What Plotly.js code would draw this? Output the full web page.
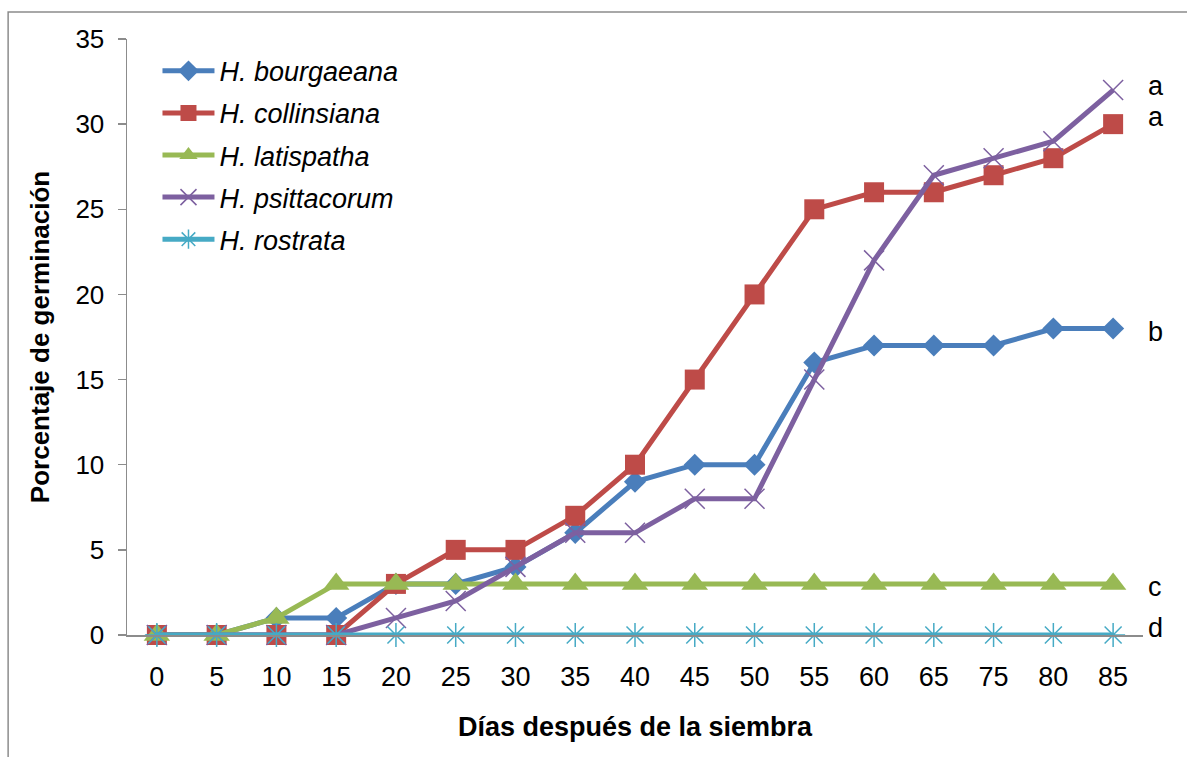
<!DOCTYPE html>
<html>
<head>
<meta charset="utf-8">
<script src="https://cdn.plot.ly/plotly-3.0.1.min.js"></script>
<style>
  html, body { margin: 0; padding: 0; background: #ffffff; }
  #chart { width: 1187px; height: 757px; }
</style>
</head>
<body>
<div id="chart"></div>
<script>
// Días después de la siembra (categorías del eje X)
const days = ['0', '5', '10', '15', '20', '25', '30', '35', '40', '45', '50', '55', '60', '65', '75', '80', '85'];

// Porcentaje de germinación por especie
const bourgaeana  = [0, 0, 1, 1, 3, 3, 4, 6, 9, 10, 10, 16, 17, 17, 17, 18, 18];
const collinsiana = [0, 0, 0, 0, 3, 5, 5, 7, 10, 15, 20, 25, 26, 26, 27, 28, 30];
const latispatha  = [0, 0, 1, 3, 3, 3, 3, 3, 3, 3, 3, 3, 3, 3, 3, 3, 3];
const psittacorum = [0, 0, 0, 0, 1, 2, 4, 6, 6, 8, 8, 15, 22, 27, 28, 29, 32];
const rostrata    = [0, 0, 0, 0, 0, 0, 0, 0, 0, 0, 0, 0, 0, 0, 0, 0, 0];

// Letras de agrupación estadística al final de cada curva
const groupLetters = ['b', 'a', 'c', 'a', 'd'];

const FONT = 'Liberation Sans, Arial, sans-serif';

const seriesDefs = [
  { name: 'H. bourgaeana',  y: bourgaeana,  color: '#4A7EBB', symbol: 'diamond',       size: 17, mline: 0,   letterShift: -4 },
  { name: 'H. collinsiana', y: collinsiana, color: '#BE4B48', symbol: 'square',        size: 20, mline: 0,   letterShift: 7 },
  { name: 'H. latispatha',  y: latispatha,  color: '#98B954', symbol: 'triangle-up',   size: 23, mline: 0,   letterShift: -3 },
  { name: 'H. psittacorum', y: psittacorum, color: '#7D60A0', symbol: 'x-thin-open',   size: 20, mline: 1.5, letterShift: 4 },
  { name: 'H. rostrata',    y: rostrata,    color: '#46AAC5', symbol: 'asterisk-open', size: 20, mline: 1.5, letterShift: 7 }
];

const traces = seriesDefs.map((s, i) => ({
  type: 'scatter',
  mode: 'lines+markers',
  name: s.name,
  x: days,
  y: s.y,
  legendgroup: 'g' + i,
  line: { color: s.color, width: 5 },
  marker: {
    symbol: s.symbol,
    size: s.size,
    color: s.color,
    line: { color: s.color, width: s.mline }
  },
  cliponaxis: false
}));

// Letters sit just right of the last point of each curve (category index)
const lastIdx = days.length - 1;
const annotations = seriesDefs.map((s, i) => ({
  xref: 'x', yref: 'y',
  x: lastIdx,
  y: s.y[lastIdx],
  text: groupLetters[i],
  showarrow: false,
  xanchor: 'left',
  yanchor: 'middle',
  xshift: 33,
  yshift: s.letterShift,
  font: { family: FONT, size: 27, color: '#000000' }
}));

const layout = {
  width: 1187,
  height: 757,
  margin: { l: 127, r: 44, t: 39, b: 122 },
  paper_bgcolor: '#ffffff',
  plot_bgcolor: '#ffffff',
  showlegend: true,
  legend: {
    x: 0.03, y: 0.987,
    xanchor: 'left', yanchor: 'top',
    bgcolor: 'rgba(0,0,0,0)',
    traceorder: 'grouped',
    tracegroupgap: 4,
    itemwidth: 52,
    font: { family: FONT, size: 27, color: '#000000', style: 'italic' }
  },
  xaxis: {
    type: 'category',
    range: [-0.5, days.length - 0.5],
    showline: true,
    linecolor: '#8C8C8C',
    linewidth: 1.5,
    ticks: '',
    showgrid: false,
    zeroline: false,
    ticklabelstandoff: 17,
    tickfont: { family: FONT, size: 27, color: '#000000' },
    title: {
      text: 'Días después de la siembra',
      font: { family: FONT, size: 27, color: '#000000', weight: 'bold' },
      standoff: 26
    }
  },
  yaxis: {
    range: [0, 35],
    tickvals: [0, 5, 10, 15, 20, 25, 30, 35],
    showline: true,
    linecolor: '#8C8C8C',
    linewidth: 1.5,
    ticks: 'outside',
    ticklen: 8,
    tickwidth: 1.5,
    tickcolor: '#8C8C8C',
    ticklabelstandoff: 8,
    showgrid: false,
    zeroline: false,
    tickfont: { family: FONT, size: 26, color: '#000000' },
    title: {
      text: 'Porcentaje de germinación',
      font: { family: FONT, size: 26, color: '#000000', weight: 'bold' },
      standoff: 18
    }
  },
  shapes: [{
    type: 'rect',
    xref: 'paper', yref: 'paper',
    x0: -0.117, x1: 1.06,
    y0: -0.25, y1: 1.0453,
    line: { color: '#8C8C8C', width: 1.5 },
    fillcolor: 'rgba(0,0,0,0)',
    layer: 'below'
  }],
  annotations: annotations
};

Plotly.newPlot('chart', traces, layout, { displayModeBar: false, staticPlot: true });
</script>
</body>
</html>
